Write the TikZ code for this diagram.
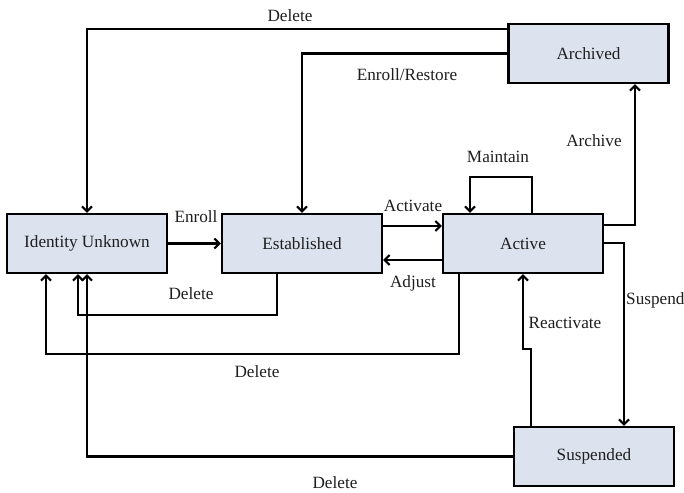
\documentclass[tikz,border=0pt]{standalone}
\usepackage{fontspec}
\setmainfont{Liberation Serif}
\usetikzlibrary{arrows.meta,calc}
\definecolor{statefill}{RGB}{220,227,238}
\definecolor{labelink}{RGB}{30,30,30}
\begin{document}
\begin{tikzpicture}[x=1pt,y=-1pt,
  every node/.style={font=\fontsize{17.2}{20}\selectfont, text=labelink},
  state/.style={draw=black, fill=statefill, line width=2.3pt,
    minimum width=160pt, minimum height=59pt, inner sep=0pt},
  conn/.style={draw=black, line width=2.1pt},
  arr/.style={conn, -{Straight Barb[length=5pt,width=10pt]}},
  lbl/.style={inner sep=0pt}]
\useasboundingbox (0,0) rectangle (684,492);

% states
\node[state] (iu)   at (87,243.5)   {Identity Unknown};
\node[state] (est)  at (302,243.5)  {Established};
\node[state] (act)  at (523,243.5)  {Active};
\node[state] (arch) at (588.5,53.5) {Archived};
\node[state] (sus)  at (594,456.5)  {Suspended};

% transitions along the middle row
\draw[arr] (iu.east) -- (est.west);
\draw[arr] ($(est.east)+(0,-17.5)$) -- ($(act.west)+(0,-17.5)$);
\draw[arr] ($(act.west)+(0,16.5)$) -- ($(est.east)+(0,16.5)$);

% self loop on Active
\draw[arr] ($(act.north)+(9,0)$) -- ++(0,-36) -| ($(act.north)+(-53,0)$);

% Active to Archived and Suspended
\draw[arr] ($(act.east)+(0,-18.5)$) -| ($(arch.south)+(46.5,0)$);
\draw[arr] ($(act.east)+(0,-0.5)$) -| ($(sus.north)+(30,0)$);

% Suspended back to Active
\draw[arr] ($(sus.north)+(-63,0)$) -- ++(0,-77) -| (act.south);

% Archived back to Established and Identity Unknown
\draw[arr] (arch.west) -| (est.north);
\draw[arr] ($(arch.north west)+(0,6.5)$) -| (iu.north);

% deletions returning to Identity Unknown
\draw[arr] ($(est.south)+(-25,0)$) -- ++(0,41) -| ($(iu.south)+(-9,0)$);
\draw[arr] ($(act.south)+(-64,0)$) -- ++(0,80) -| ($(iu.south)+(-41,0)$);
\draw[arr] (sus.west) -| (iu.south);

% labels
\node[lbl] (lDelTop)  at (290,16)  {Delete};
\node[lbl] (lEnrRes)  at (407,75)  {Enroll/Restore};
\node[lbl] (lArchive) at (594,141) {Archive};
\node[lbl] (lMaint)   at (498,157) {Maintain};
\node[lbl] (lEnroll)  at (196,217) {Enroll};
\node[lbl] (lAct)     at (413,206) {Activate};
\node[lbl] (lAdj)     at (413,283) {Adjust};
\node[lbl] (lDelEst)  at (191,294) {Delete};
\node[lbl, anchor=west] (lSusp) at (626,300) {Suspend};
\node[lbl] (lReact)   at (565,323) {Reactivate};
\node[lbl] (lDelAct)  at (257,372) {Delete};
\node[lbl] (lDelSus)  at (335,483) {Delete};
\end{tikzpicture}
\end{document}
